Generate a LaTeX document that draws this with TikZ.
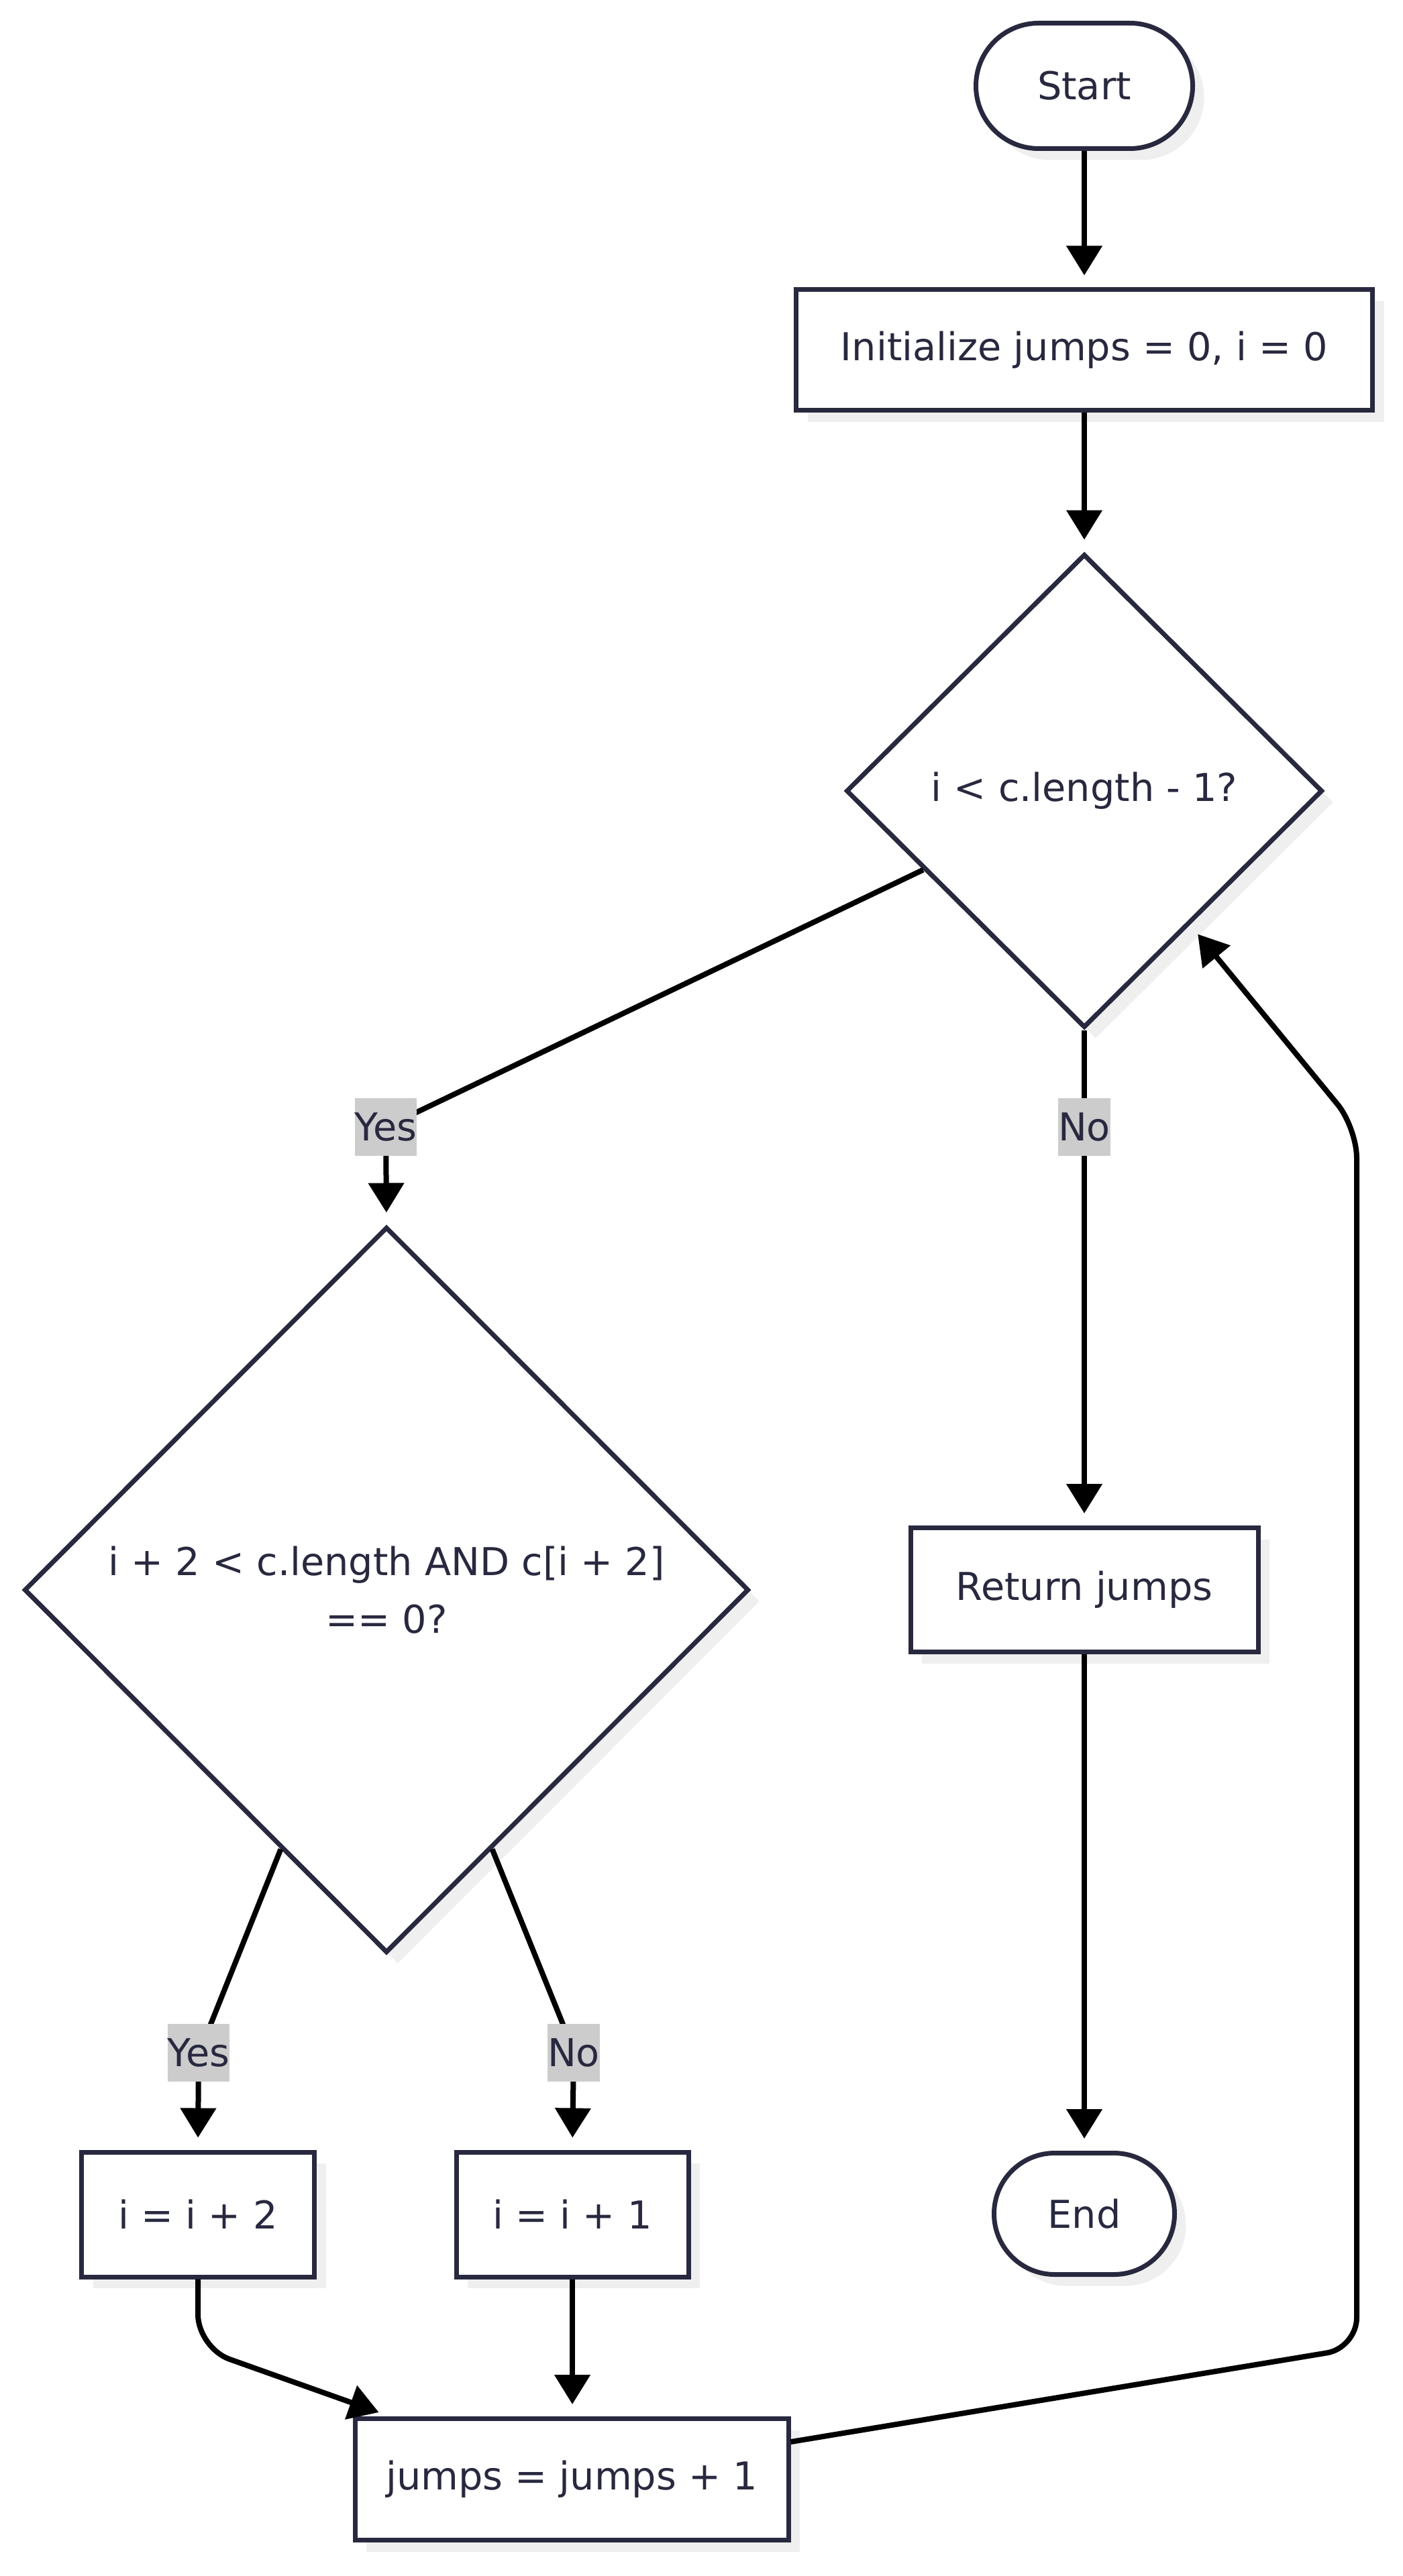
\documentclass[tikz,border=0pt]{standalone}
\usepackage{fontspec}
\setmainfont{DejaVu Sans}
\usetikzlibrary{shapes.geometric,shapes.misc,arrows.meta,calc,shadows}

\definecolor{ink}{HTML}{28283F}
\definecolor{shade}{HTML}{EFEFEF}
\definecolor{tagbg}{HTML}{CCCCCC}

\tikzset{
  base/.style={draw=ink, line width=0.07cm, fill=white, text=ink,
    font=\fontsize{16.3}{24.4}\selectfont, inner sep=0pt,
    general shadow={fill=shade, shadow xshift=0.17cm, shadow yshift=-0.17cm}},
  proc/.style={base, rectangle},
  term/.style={base, rounded rectangle},
  decision/.style={base, diamond, shape aspect=1, align=center},
  edge/.style={draw=black, line width=0.08cm,
    -{Triangle[length=0.44cm,width=0.52cm]}, shorten >=0.18cm},
  tag/.style={fill=tagbg, text=ink, font=\fontsize{16.3}{24.4}\selectfont,
    inner xsep=0pt, inner ysep=0pt, minimum height=0.86cm}
}

\begin{document}
\begin{tikzpicture}
\useasboundingbox (0,0) rectangle (20.9,-38.4);
\fill[white] (0,0) rectangle (20.9,-38.4);

% process nodes
\node[term, minimum width=3.23cm, minimum height=1.87cm] (start) at (16.16,-1.28) {Start};
\node[proc, minimum width=8.59cm, minimum height=1.80cm] (init) at (16.16,-5.22) {Initialize jumps = 0, i = 0};
\node[decision, minimum width=7.10cm, minimum height=7.06cm] (d1) at (16.16,-11.79) {i < c.length - 1?};
\node[decision, minimum width=10.80cm, minimum height=10.82cm] (d2) at (5.76,-23.70) {i + 2 < c.length AND c[i + 2]\\== 0?};
\node[proc, minimum width=5.18cm, minimum height=1.85cm] (ret) at (16.16,-23.70) {Return jumps};
\node[term, minimum width=2.69cm, minimum height=1.81cm] (finish) at (16.16,-33.00) {End};
\node[proc, minimum width=3.47cm, minimum height=1.86cm] (inc2) at (2.95,-33.01) {i = i + 2};
\node[proc, minimum width=3.46cm, minimum height=1.86cm] (inc1) at (8.53,-33.01) {i = i + 1};
\node[proc, minimum width=6.46cm, minimum height=1.81cm] (jmp) at (8.52,-36.96) {jumps = jumps + 1};

% label positions and bend points
\coordinate (yes1) at (5.75,-16.80);
\coordinate (no1) at (16.16,-16.80);
\coordinate (yes2) at (2.96,-30.60);
\coordinate (no2) at (8.55,-30.60);
\coordinate (bendA) at (2.95,-35.00);
\coordinate (loopA) at (20.22,-35.00);
\coordinate (loopB) at (20.22,-16.81);

% connectors
\draw[edge] (start.south) -- (init.north);
\draw[edge] (init.south) -- (d1.north);
\draw[edge] ($(d1.west)!0.33!(d1.south)$) -- (yes1) -- (d2.north);
\draw[edge] (d1.south) -- (no1) -- (ret.north);
\draw[edge] (ret.south) -- (finish.north);
\draw[edge] ($(d2.west)!0.71!(d2.south)$) -- ($(yes2)+(0.19,0.45)$) -- (yes2) -- (inc2.north);
\draw[edge] ($(d2.south)!0.29!(d2.east)$) -- ($(no2)+(-0.17,0.45)$) -- (no2) -- (inc1.north);
\draw[edge, rounded corners=0.5cm] (inc2.south) -- (bendA) -- ([xshift=0.56cm]jmp.north west);
\draw[edge] (inc1.south) -- (inc1.south |- jmp.north);
\draw[edge, rounded corners=0.45cm] ([yshift=0.56cm]jmp.east) -- (loopA) -- (loopB) -- ($(d1.south)!0.44!(d1.east)$);

% branch labels
\node[tag] (yes1tag) at (yes1) {Yes};
\node[tag] (no1tag) at (no1) {No};
\node[tag] (yes2tag) at (yes2) {Yes};
\node[tag] (no2tag) at (no2) {No};
\end{tikzpicture}
\end{document}
